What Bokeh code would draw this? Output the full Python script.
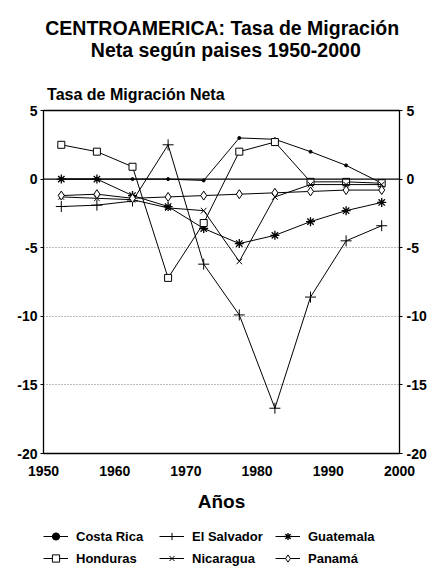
from bokeh.plotting import figure
from bokeh.models import (LinearAxis, FixedTicker, Span, Label, Legend, LegendItem, Range1d)
from bokeh.layouts import column
from bokeh.embed import file_html
from bokeh.resources import INLINE

# ---- data ----
years = [1952.5, 1957.5, 1962.5, 1967.5, 1972.5, 1977.5, 1982.5, 1987.5, 1992.5, 1997.5]
costa_rica = [0.0, 0.0, 0.0, 0.0, -0.1, 3.0, 2.9, 2.0, 1.0, -0.3]
el_salvador = [-2.0, -1.9, -1.6, 2.5, -6.2, -9.9, -16.7, -8.6, -4.5, -3.4]
guatemala = [0.0, 0.0, -1.2, -2.0, -3.6, -4.7, -4.1, -3.1, -2.3, -1.7]
honduras = [2.5, 2.0, 0.9, -7.2, -3.2, 2.0, 2.7, -0.2, -0.2, -0.3]
nicaragua = [-1.3, -1.4, -1.5, -2.1, -2.3, -6.0, -1.3, -0.4, -0.4, -0.4]
panama = [-1.2, -1.1, -1.4, -1.3, -1.2, -1.1, -1.0, -0.9, -0.8, -0.8]

x_ticks = [1950, 1960, 1970, 1980, 1990, 2000]
y_ticks = [-20, -15, -10, -5, 0, 5]
y_tick_labels = {t: str(t) for t in y_ticks}
grid_ticks = [-15, -10, -5]

title_lines = ["CENTROAMERICA: Tasa de Migración", "Neta según paises 1950-2000"]
y_title = "Tasa de Migración Neta"
x_title = "Años"

FONT = "Liberation Sans"
W = 429
BL, BR = 43, 28

# ---------- header (titles) ----------
HEAD_H = 103
head = figure(width=W, height=HEAD_H, output_backend="svg", toolbar_location=None,
              x_range=Range1d(1950, 2000), y_range=Range1d(HEAD_H, 0),
              x_axis_location=None, y_axis_location=None,
              min_border_left=BL, min_border_right=BR, min_border_top=0, min_border_bottom=0)
head.title.visible = False
head.outline_line_color = None
head.grid.grid_line_color = None
head.add_layout(Label(x=1975.1, y=27, text=title_lines[0], text_align="center",
                      text_baseline="middle", text_font=FONT, text_font_style="bold",
                      text_font_size="19.5px", text_color="black"))
head.add_layout(Label(x=1975.6, y=49, text=title_lines[1], text_align="center",
                      text_baseline="middle", text_font=FONT, text_font_style="bold",
                      text_font_size="19.5px", text_color="black"))
head.add_layout(Label(x=1950.5, y=94, text=y_title, text_align="left",
                      text_baseline="middle", text_font=FONT, text_font_style="bold",
                      text_font_size="16px", text_color="black"))

# ---------- main chart ----------
p = figure(width=W, height=422, output_backend="svg", toolbar_location=None,
           x_range=Range1d(1950, 2000), y_range=Range1d(-20, 5),
           min_border_left=BL, min_border_right=BR, min_border_top=7, min_border_bottom=72)
p.title.visible = False
p.outline_line_color = "black"
p.outline_line_width = 1.3

p.xaxis.ticker = FixedTicker(ticks=x_ticks)
p.yaxis.ticker = FixedTicker(ticks=y_ticks)
p.yaxis.major_label_overrides = y_tick_labels
p.xaxis.axis_line_color = None
p.yaxis.axis_line_color = None
p.xaxis.major_tick_out = 0
p.xaxis.major_tick_in = 0
p.xaxis.minor_tick_line_color = None
p.yaxis.minor_tick_line_color = None
p.yaxis.major_tick_out = 3
p.yaxis.major_tick_in = 0
p.yaxis.major_label_standoff = 3
p.xaxis.major_label_standoff = 12
for ax in (p.xaxis, p.yaxis):
    ax.major_label_text_font = FONT
    ax.major_label_text_font_style = "bold"
    ax.major_label_text_font_size = "14px"
    ax.major_label_text_color = "black"
p.xaxis.axis_label = x_title
p.xaxis.axis_label_text_font = FONT
p.xaxis.axis_label_text_font_style = "bold"
p.xaxis.axis_label_text_font_size = "19px"
p.xaxis.axis_label_text_color = "black"
p.xaxis.axis_label_standoff = 12

ry = LinearAxis(ticker=FixedTicker(ticks=y_ticks), axis_line_color=None,
                major_label_overrides=y_tick_labels,
                major_tick_out=3, major_tick_in=0, minor_tick_line_color=None,
                major_label_standoff=4, major_label_text_font=FONT,
                major_label_text_font_style="bold", major_label_text_font_size="14px",
                major_label_text_color="black")
p.add_layout(ry, "right")

p.xgrid.grid_line_color = None
p.ygrid.ticker = FixedTicker(ticks=grid_ticks)
p.ygrid.grid_line_color = "#777777"
p.ygrid.grid_line_dash = "1 2"
p.ygrid.grid_line_width = 1
p.add_layout(Span(location=0, dimension="width", line_color="black", line_width=1.2))

series = [
    ("Costa Rica", costa_rica, "circle", 3, True),
    ("El Salvador", el_salvador, "cross", 11, False),
    ("Guatemala", guatemala, "asterisk", 9, False),
    ("Honduras", honduras, "square", 7, False),
    ("Nicaragua", nicaragua, "x", 8, False),
    ("Panamá", panama, "diamond", 9, False),
]

for name, vals, marker, size, filled in series:
    p.line(years, vals, line_color="black", line_width=1)
    p.scatter(years, vals, marker=marker, size=size, line_color="black",
              line_width=1.3 if marker == "asterisk" else 1,
              fill_color="black" if filled else "white")

# ---------- legend strip ----------
leg = figure(width=W, height=42, output_backend="svg", toolbar_location=None,
             x_range=Range1d(0, 1), y_range=Range1d(0, 1),
             x_axis_location=None, y_axis_location=None,
             min_border_left=BL, min_border_right=BR, min_border_top=0, min_border_bottom=0)
leg.title.visible = False
leg.outline_line_color = None
leg.grid.grid_line_color = None
item_map = {}
for name, vals, marker, size, filled in series:
    l = leg.line(years, vals, line_color="black", line_width=1)
    s = leg.scatter(years, vals, marker=marker, size=size, line_color="black",
                    line_width=1.3 if marker == "asterisk" else 1,
                    fill_color="black" if filled else "white")
    item_map[name] = LegendItem(label=name, renderers=[l, s])
order = ["Costa Rica", "Honduras", "El Salvador", "Nicaragua", "Guatemala", "Panamá"]
legend = Legend(items=[item_map[n] for n in order], ncols=3, location=(0, 0),
                glyph_width=25, glyph_height=18, label_height=18, label_width=79,
                label_standoff=8, spacing=4, padding=0, margin=0,
                label_text_font=FONT, label_text_font_style="bold",
                label_text_font_size="13px", label_text_color="black",
                border_line_color=None, background_fill_alpha=0)
leg.add_layout(legend, "center")

open("out.html", "w").write(file_html(column(head, p, leg), INLINE))
